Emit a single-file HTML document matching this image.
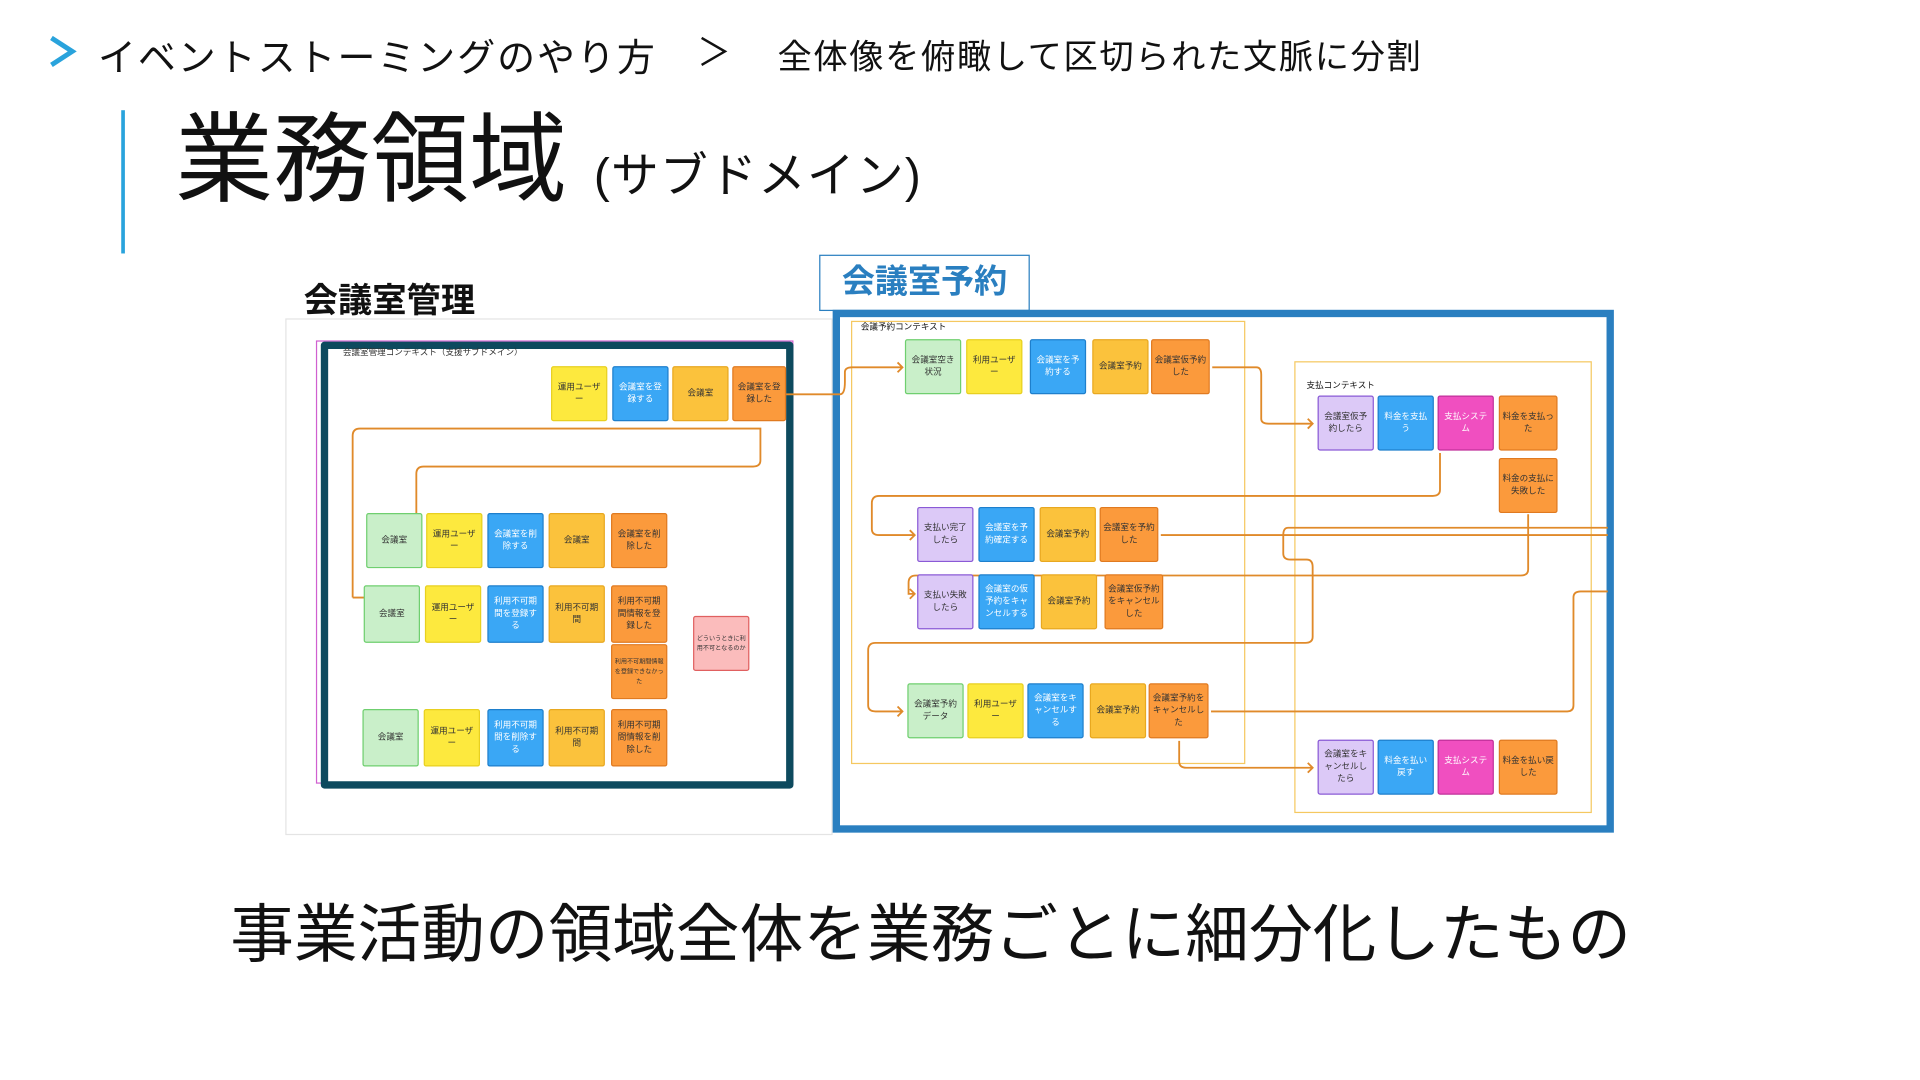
<!DOCTYPE html>
<html><head><meta charset="utf-8">
<style>
html,body{margin:0;padding:0;background:#fff;width:1920px;height:1080px;overflow:hidden}
#w{position:absolute;left:0;top:0;width:1568px;height:882px;transform:scale(1.22449);transform-origin:0 0;font-family:"Liberation Sans","Noto Sans CJK JP",sans-serif;color:#111}
.a{position:absolute;white-space:nowrap}
.s{position:absolute;width:46px;height:45px;box-sizing:border-box;border-radius:2px;display:flex;align-items:center;justify-content:center;text-align:center;font-size:7px;line-height:10px;color:#333;padding:2px;white-space:normal;word-break:break-all}
.g{background:#c9efc9;border:1px solid #6fcf6f}
.y{background:#fde93e;border:1px solid #e8d020}
.b{background:#3aa7f5;border:1px solid #1e7fcc;color:#fff}
.m{background:#fbc23c;border:1px solid #e8a820}
.o{background:#fb9a3c;border:1px solid #e07a20}
.p{background:#dcc9f7;border:1px solid #8a5ad6}
.k{background:#f04fc0;border:1px solid #c0309a;color:#fff}
.r{background:#fbbcbc;border:1px solid #e06060;font-size:5px;line-height:8px}
</style></head><body><div id="w">
<svg class="a" style="left:0;top:0" width="700" height="70" fill="none">
<path d="M42 31 L59 42 L42 53" stroke="#29a3dc" stroke-width="4"/>
<path d="M573 31 L592 42 L573 53" stroke="#111" stroke-width="2"/>
</svg>
<div class="a" style="left:80px;top:22px;font-size:31px;letter-spacing:1.6px">イベントストーミングのやり方</div>
<div class="a" style="left:635px;top:25px;font-size:28px;letter-spacing:1.3px">全体像を俯瞰して区切られた文脈に分割</div>
<div class="a" style="left:99px;top:90px;width:3px;height:117px;background:#29a3dc"></div>
<div class="a" style="left:143px;top:83px;font-size:80px;line-height:96px">業務領域</div>
<div class="a" style="left:485px;top:120px;font-size:39px;line-height:50px;letter-spacing:1px">(サブドメイン)</div>
<div class="a" style="left:248px;top:224px;font-size:28px;font-weight:bold">会議室管理</div>
<div class="a" style="left:669px;top:208px;width:170px;height:44px;border:1.5px solid #2a7fc0;color:#2a7fc0;font-size:27px;font-weight:bold;text-align:center;line-height:42px">会議室予約</div>

<div class="a" style="left:233px;top:260px;width:447px;height:422px;border:1px solid #e4e4e4;box-sizing:border-box"></div>
<div class="a" style="left:258px;top:278px;width:390px;height:362px;border:1px solid #d060d0;box-sizing:border-box"></div>
<div class="a" style="left:262px;top:279px;width:386px;height:365px;border:6px solid #0d4a5e;border-radius:3px;box-sizing:border-box"></div>
<div class="a" style="left:280px;top:283px;font-size:7px;color:#333">会議室管理コンテキスト（支援サブドメイン）</div>

<div class="a" style="left:680px;top:253px;width:638px;height:427px;border:6px solid #2a7fc0;box-sizing:border-box"></div>
<div class="a" style="left:695px;top:262px;width:322px;height:362px;border:1px solid #f5c860;box-sizing:border-box"></div>
<div class="a" style="left:703px;top:262px;font-size:7px">会議予約コンテキスト</div>
<div class="a" style="left:1057px;top:295px;width:243px;height:369px;border:1px solid #f5c860;box-sizing:border-box"></div>
<div class="a" style="left:1067px;top:310px;font-size:7px">支払コンテキスト</div>

<svg class="a" style="left:0;top:0" width="1568" height="882" fill="none" stroke="#e08a2a" stroke-width="1.5">
<path d="M288 488 H298 M288 488 V356 Q288 350 294 350 H621 V376 Q621 381 615 381 H346 Q340 381 340 387 V419"/>
<path d="M642 322 H686 Q690 322 690 312 V304 Q690 300 696 300 H737"/>
<path d="M990 300 H1026 Q1030 300 1030 306 V342 Q1030 346 1036 346 H1072"/>
<path d="M1176 370 V400 Q1176 405 1170 405 H718 Q712 405 712 411 V432 Q712 437 718 437 H747"/>
<path d="M948 437 H1313"/>
<path d="M1313 431 H1052 Q1048 431 1048 437 V452 Q1048 457 1054 457 H1067 Q1072 457 1072 463 V520 Q1072 525 1066 525 H715 Q709 525 709 531 V576 Q709 581 715 581 H737"/>
<path d="M1248 420 V465 Q1248 470 1242 470 H748 Q742 470 742 476 V485 H747"/>
<path d="M989 581 H1280 Q1285 581 1285 576 V488 Q1285 483 1291 483 H1313"/>
<path d="M963 605 V622 Q963 627 969 627 H1072"/>
<g stroke-width="1.5"><path d="M733 296 L737 300 L733 304"/><path d="M1068 342 L1072 346 L1068 350"/><path d="M743 433 L747 437 L743 441"/><path d="M743 481 L747 485 L743 489"/><path d="M733 577 L737 581 L733 585"/><path d="M1068 623 L1072 627 L1068 631"/></g>
</svg>

<div class="s y" style="left:450px;top:299px">運用ユーザー</div>
<div class="s b" style="left:500px;top:299px">会議室を登録する</div>
<div class="s m" style="left:549px;top:299px">会議室</div>
<div class="s o" style="left:598px;top:299px;width:44px">会議室を登録した</div>

<div class="s g" style="left:299px;top:419px">会議室</div>
<div class="s y" style="left:348px;top:419px">運用ユーザー</div>
<div class="s b" style="left:398px;top:419px">会議室を削除する</div>
<div class="s m" style="left:448px;top:419px">会議室</div>
<div class="s o" style="left:499px;top:419px">会議室を削除した</div>

<div class="s g" style="left:297px;top:478px;height:47px">会議室</div>
<div class="s y" style="left:347px;top:478px;height:47px">運用ユーザー</div>
<div class="s b" style="left:398px;top:478px;height:47px">利用不可期間を登録する</div>
<div class="s m" style="left:448px;top:478px;height:47px">利用不可期間</div>
<div class="s o" style="left:499px;top:478px;height:47px">利用不可期間情報を登録した</div>
<div class="s o" style="left:499px;top:526px;font-size:5px;line-height:8px">利用不可期間情報を登録できなかった</div>
<div class="s r" style="left:566px;top:503px">どういうときに利用不可となるのか</div>

<div class="s g" style="left:296px;top:579px;height:47px">会議室</div>
<div class="s y" style="left:346px;top:579px;height:47px">運用ユーザー</div>
<div class="s b" style="left:398px;top:579px;height:47px">利用不可期間を削除する</div>
<div class="s m" style="left:448px;top:579px;height:47px">利用不可期間</div>
<div class="s o" style="left:499px;top:579px;height:47px">利用不可期間情報を削除した</div>

<div class="s g" style="left:739px;top:277px">会議室空き状況</div>
<div class="s y" style="left:789px;top:277px">利用ユーザー</div>
<div class="s b" style="left:841px;top:277px">会議室を予約する</div>
<div class="s m" style="left:892px;top:277px">会議室予約</div>
<div class="s o" style="left:940px;top:277px;width:48px">会議室仮予約した</div>

<div class="s p" style="left:1076px;top:323px">会議室仮予約したら</div>
<div class="s b" style="left:1125px;top:323px">料金を支払う</div>
<div class="s k" style="left:1174px;top:323px">支払システム</div>
<div class="s o" style="left:1224px;top:323px;width:48px">料金を支払った</div>
<div class="s o" style="left:1224px;top:374px;width:48px">料金の支払に失敗した</div>

<div class="s p" style="left:749px;top:414px">支払い完了したら</div>
<div class="s b" style="left:799px;top:414px">会議室を予約確定する</div>
<div class="s m" style="left:849px;top:414px">会議室予約</div>
<div class="s o" style="left:898px;top:414px;width:48px">会議室を予約した</div>

<div class="s p" style="left:749px;top:469px">支払い失敗したら</div>
<div class="s b" style="left:799px;top:469px">会議室の仮予約をキャンセルする</div>
<div class="s m" style="left:850px;top:469px">会議室予約</div>
<div class="s o" style="left:902px;top:469px;width:48px">会議室仮予約をキャンセルした</div>

<div class="s g" style="left:741px;top:558px">会議室予約データ</div>
<div class="s y" style="left:790px;top:558px">利用ユーザー</div>
<div class="s b" style="left:839px;top:558px">会議室をキャンセルする</div>
<div class="s m" style="left:890px;top:558px">会議室予約</div>
<div class="s o" style="left:938px;top:558px;width:49px">会議室予約をキャンセルした</div>

<div class="s p" style="left:1076px;top:604px">会議室をキャンセルしたら</div>
<div class="s b" style="left:1125px;top:604px">料金を払い戻す</div>
<div class="s k" style="left:1174px;top:604px">支払システム</div>
<div class="s o" style="left:1224px;top:604px;width:48px">料金を払い戻した</div>

<div class="a" style="left:188px;top:732px;font-size:52px;line-height:64px">事業活動の領域全体を業務ごとに細分化したもの</div>
</div></body></html>
